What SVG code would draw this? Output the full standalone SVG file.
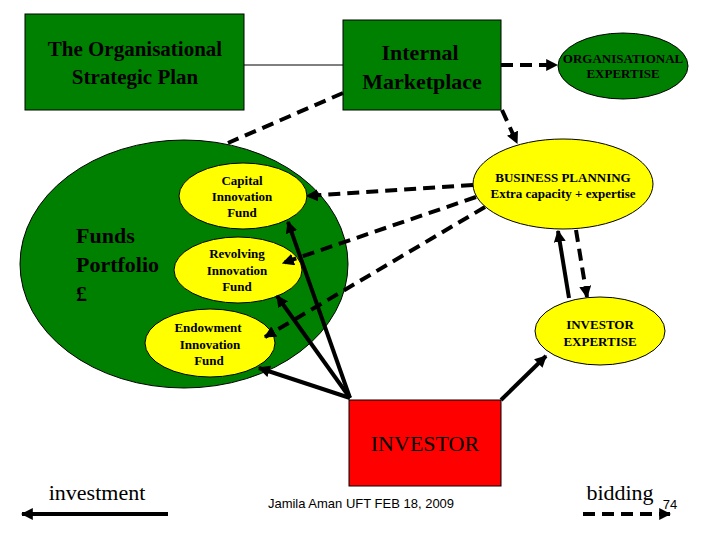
<svg xmlns="http://www.w3.org/2000/svg" width="720" height="540" viewBox="0 0 720 540">
<style>
.t{font-family:'Liberation Serif','Times New Roman','DejaVu Serif',serif;fill:#000;text-anchor:middle}
.l{text-anchor:start}
.g{fill:#008000;stroke:#000;stroke-width:1}
.y{fill:#ffff00;stroke:#000;stroke-width:1}
.s{stroke:#000;stroke-width:4;fill:none}
.d{stroke:#000;stroke-width:4;fill:none;stroke-dasharray:12 7}
</style>
<defs>
<marker id="a" viewBox="0 0 10 10" refX="9" refY="5" markerWidth="3" markerHeight="3" orient="auto"><path d="M0,0L10,5L0,10z" fill="#000"/></marker>
</defs>
<rect width="720" height="540" fill="#fff"/>
<g id="plan"><rect class="g" x="25" y="14" width="219" height="96"/>
<text class="t" font-size="21" font-weight="bold" x="135" y="56">The Organisational</text>
<text class="t" font-size="21" font-weight="bold" x="135" y="84">Strategic Plan</text></g>
<g id="market"><rect class="g" x="343" y="20" width="158" height="90"/>
<text class="t" font-size="22" font-weight="bold" x="420" y="60">Internal</text>
<text class="t" font-size="22" font-weight="bold" x="422" y="89">Marketplace</text></g>
<g id="orgexp"><ellipse class="g" cx="623" cy="66" rx="65" ry="33"/>
<text class="t" font-size="13" font-weight="bold" x="623" y="63">ORGANISATIONAL</text>
<text class="t" font-size="13" font-weight="bold" x="623" y="78">EXPERTISE</text></g>
<g id="portfolio"><ellipse class="g" cx="184" cy="264" rx="164" ry="124"/>
<text class="t l" font-size="22" font-weight="bold" x="76" y="243">Funds</text>
<text class="t l" font-size="22" font-weight="bold" x="76" y="272">Portfolio</text>
<text class="t l" font-size="22" font-weight="bold" x="76" y="301">£</text></g>
<g id="capital"><ellipse class="y" cx="243" cy="196" rx="64" ry="33"/>
<text class="t" font-size="13" font-weight="bold" x="242" y="185">Capital</text>
<text class="t" font-size="13" font-weight="bold" x="242" y="201">Innovation</text>
<text class="t" font-size="13" font-weight="bold" x="242" y="217">Fund</text></g>
<g id="revolving"><ellipse class="y" cx="238" cy="270" rx="64" ry="33"/>
<text class="t" font-size="13" font-weight="bold" x="237" y="258">Revolving</text>
<text class="t" font-size="13" font-weight="bold" x="237" y="275">Innovation</text>
<text class="t" font-size="13" font-weight="bold" x="237" y="291">Fund</text></g>
<g id="endowment"><ellipse class="y" cx="210" cy="343" rx="65" ry="34"/>
<text class="t" font-size="13" font-weight="bold" x="208" y="332">Endowment</text>
<text class="t" font-size="13" font-weight="bold" x="210" y="349">Innovation</text>
<text class="t" font-size="13" font-weight="bold" x="209" y="365">Fund</text></g>
<g id="bp"><ellipse class="y" cx="563" cy="184" rx="90" ry="45"/>
<text class="t" font-size="13" font-weight="bold" x="563" y="182">BUSINESS PLANNING</text>
<text class="t" font-size="13" font-weight="bold" x="563" y="198">Extra capacity + expertise</text></g>
<g id="invexp"><ellipse class="y" cx="600" cy="331" rx="65" ry="34"/>
<text class="t" font-size="13" font-weight="bold" x="600" y="329">INVESTOR</text>
<text class="t" font-size="13" font-weight="bold" x="600" y="346">EXPERTISE</text></g>
<g id="investor"><rect x="349" y="400" width="152" height="86" fill="#ff0000" stroke="#000" stroke-width="1"/>
<text class="t" font-size="22" x="425" y="451">INVESTOR</text></g>
<g id="connectors">
<line x1="244" y1="65" x2="343" y2="65" stroke="#000" stroke-width="1"/>
<line class="d" x1="501" y1="65" x2="557" y2="65" marker-end="url(#a)"/>
<line class="d" x1="502" y1="110" x2="517" y2="143" marker-end="url(#a)"/>
<line class="d" x1="343" y1="93" x2="228" y2="143"/>
<line class="d" x1="473" y1="185" x2="307" y2="196" marker-end="url(#a)"/>
<line class="d" x1="476" y1="197" x2="283" y2="263" marker-end="url(#a)"/>
<line class="d" x1="485" y1="207" x2="265" y2="337" marker-end="url(#a)"/>
<line class="s" x1="350" y1="398" x2="288" y2="222" marker-end="url(#a)"/>
<line class="s" x1="350" y1="398" x2="277" y2="296" marker-end="url(#a)"/>
<line class="s" x1="350" y1="398" x2="259" y2="368" marker-end="url(#a)"/>
<line class="s" x1="501" y1="400" x2="546" y2="356" marker-end="url(#a)"/>
<line class="s" x1="569" y1="298" x2="558" y2="231" marker-end="url(#a)"/>
<line class="d" x1="576" y1="230" x2="587" y2="297" marker-end="url(#a)"/>
</g>
<g id="legend">
<text class="t" font-size="22" x="97" y="500">investment</text>
<line class="s" x1="168" y1="514" x2="22" y2="514" marker-end="url(#a)"/>
<text class="t" font-size="22" x="620" y="500">bidding</text>
<line class="d" x1="583" y1="514" x2="670" y2="514" marker-end="url(#a)"/>
<text font-family="'Liberation Sans',sans-serif" font-size="13" x="670" y="509" text-anchor="middle">74</text>
<text font-family="'Liberation Sans',sans-serif" font-size="13" x="361" y="508" text-anchor="middle">Jamila Aman  UFT FEB 18, 2009</text>
</g>
</svg>
